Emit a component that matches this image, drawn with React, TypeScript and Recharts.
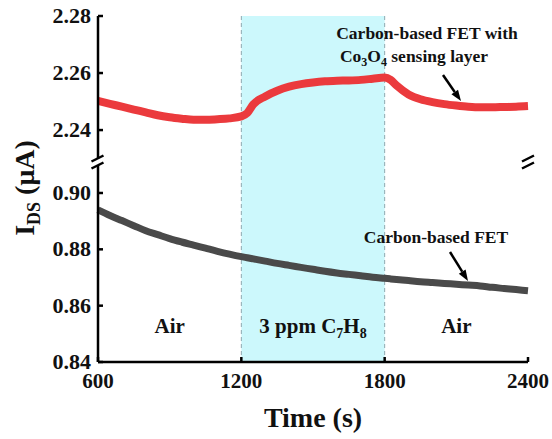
import React from "react";
import { LineChart, Line, XAxis, YAxis, ReferenceArea, ReferenceLine } from "recharts";

// time points (s)
const time = [
  600, 650, 700, 750, 800, 850, 900, 950, 1000, 1050, 1100, 1150, 1200,
  1225, 1250, 1300, 1350, 1400, 1450, 1500, 1550, 1600, 1650, 1700, 1750, 1800,
  1825, 1850, 1900, 1950, 2000, 2050, 2100, 2150, 2200, 2250, 2300, 2350, 2400,
];

// I_DS (uA), carbon-based FET with Co3O4 sensing layer
const withCo3O4 = [
  2.2502, 2.2492, 2.2482, 2.2472, 2.2462, 2.2452, 2.2445, 2.244, 2.2436, 2.2436, 2.2438, 2.2441, 2.2448,
  2.246, 2.249, 2.2518, 2.2538, 2.2552, 2.2561, 2.2567, 2.2571, 2.2573, 2.2574, 2.2576, 2.258, 2.2584,
  2.2576, 2.2556, 2.2525, 2.2508, 2.2498, 2.2491, 2.2486, 2.2482, 2.248, 2.248, 2.2481, 2.2482, 2.2484,
];

// I_DS (uA), bare carbon-based FET
const bareFet = [
  0.894, 0.892, 0.8902, 0.8884, 0.8866, 0.8852, 0.8838, 0.8826, 0.8815, 0.8804, 0.8793, 0.8783, 0.8774,
  0.877, 0.8766, 0.8758, 0.875, 0.8743, 0.8736, 0.8729, 0.8722, 0.8716, 0.8711, 0.8706, 0.8701, 0.8697,
  0.8695, 0.8693, 0.8689, 0.8685, 0.8682, 0.8679, 0.8676, 0.8673, 0.867, 0.8665, 0.8661, 0.8657, 0.8653,
];

const xTicks = [600, 1200, 1800, 2400];
const upperTicks = [2.24, 2.26, 2.28];
const lowerTicks = [0.84, 0.86, 0.88, 0.9];
const upperDomain = [2.2288, 2.28];
const lowerDomain = [0.84, 0.911];

const regionStart = [600, 1200, 1800];
const regionEnd = [1200, 1800, 2400];
const regionGas = [false, true, false];

const data = time.map((t, i) => ({ t, top: withCo3O4[i], bottom: bareFet[i] }));

const FONT = "'Liberation Serif', 'Times New Roman', serif";
const AXIS = { stroke: "#000", strokeWidth: 2.5 };
const CYAN = "#ccf8fc";
const DASH = "#8fa9b0";

const YTick = (props: any) => {
  const { x, y, payload } = props;
  return (
    <g>
      <line x1={x} x2={x + 5} y1={y} y2={y} stroke="#000" strokeWidth={2.5} />
      <text x={x - 7} y={y + 7} textAnchor="end" fontFamily={FONT} fontWeight="bold" fontSize={22} fill="#111">
        {payload.value.toFixed(2)}
      </text>
    </g>
  );
};

const XTick = (props: any) => {
  const { x, y, payload } = props;
  return (
    <g>
      <line x1={x} x2={x} y1={y} y2={y - 5} stroke="#000" strokeWidth={2.5} />
      <text x={x} y={y + 26} textAnchor="middle" fontFamily={FONT} fontWeight="bold" fontSize={21} fill="#111">
        {payload.value}
      </text>
    </g>
  );
};

const RegionLabel = (props: any) => {
  const { viewBox, gas } = props;
  const cx = viewBox.x + viewBox.width / 2;
  const y = viewBox.y + viewBox.height - 29;
  return (
    <text x={cx} y={y} textAnchor="middle" fontFamily={FONT} fontWeight="bold" fontSize={21} fill="#111">
      {gas ? (
        <>
          3 ppm C<tspan fontSize={14} dy={5}>7</tspan>
          <tspan dy={-5}>H</tspan>
          <tspan fontSize={14} dy={5}>8</tspan>
        </>
      ) : (
        "Air"
      )}
    </text>
  );
};

const Arrow = ({ x1, y1, x2, y2 }: { x1: number; y1: number; x2: number; y2: number }) => {
  const a = Math.atan2(y2 - y1, x2 - x1);
  const len = 11;
  const w = 4;
  const bx = x2 - len * Math.cos(a);
  const by = y2 - len * Math.sin(a);
  const px = -Math.sin(a) * w;
  const py = Math.cos(a) * w;
  return (
    <g>
      <line x1={x1} y1={y1} x2={bx} y2={by} stroke="#000" strokeWidth={2.5} />
      <polygon points={`${x2},${y2} ${bx + px},${by + py} ${bx - px},${by - py}`} fill="#000" />
    </g>
  );
};

// "//" marks where the y axis is broken; the axis is blanked between them
const BreakMark = ({ x }: { x: number }) => (
  <g>
    <rect x={x - 2.5} y={158.5} width={5} height={6.5} fill="#fff" />
    <g stroke="#000" strokeWidth={2.5}>
      <line x1={x - 6} y1={161.5} x2={x + 6} y2={155.5} />
      <line x1={x - 6} y1={168.5} x2={x + 6} y2={162.5} />
    </g>
  </g>
);

export default function App() {
  return (
    <div style={{ position: "fixed", left: 0, top: 0, width: 552, height: 439, background: "#fff" }}>
      {/* upper panel */}
      <div style={{ position: "absolute", left: 0, top: 0 }}>
        <LineChart width={552} height={162} data={data} margin={{ top: 16, right: 24, bottom: 0, left: 0 }}>
          <XAxis dataKey="t" type="number" domain={[600, 2400]} ticks={xTicks} orientation="top" height={0} tick={false} tickLine={false} axisLine={AXIS} />
          <YAxis domain={upperDomain} ticks={upperTicks} allowDataOverflow width={98} tickLine={false} tickSize={0} tickMargin={0} tick={<YTick />} axisLine={AXIS} />
          <YAxis yAxisId="r" orientation="right" domain={upperDomain} width={0} tick={false} tickLine={false} axisLine={AXIS} />
          {regionStart.map((s, i) => (
            <ReferenceArea key={s} x1={s} x2={regionEnd[i]} fill={CYAN} fillOpacity={regionGas[i] ? 1 : 0} stroke="none" />
          ))}
          <ReferenceLine x={1200} stroke={DASH} strokeDasharray="4 3" strokeWidth={1} />
          <ReferenceLine x={1800} stroke={DASH} strokeDasharray="4 3" strokeWidth={1} />
          <Line dataKey="top" type="monotone" stroke="#eb3a3d" strokeWidth={8} dot={false} isAnimationActive={false} />
        </LineChart>
      </div>
      {/* lower panel */}
      <div style={{ position: "absolute", left: 0, top: 162 }}>
        <LineChart width={552} height={277} data={data} margin={{ top: 0, right: 24, bottom: 37, left: 0 }}>
          <XAxis dataKey="t" type="number" domain={[600, 2400]} ticks={xTicks} height={40} tickLine={false} tickSize={0} tickMargin={0} tick={<XTick />} axisLine={AXIS} />
          <YAxis domain={lowerDomain} ticks={lowerTicks} allowDataOverflow width={98} tickLine={false} tickSize={0} tickMargin={0} tick={<YTick />} axisLine={AXIS} />
          <YAxis yAxisId="r" orientation="right" domain={lowerDomain} width={0} tick={false} tickLine={false} axisLine={AXIS} />
          {regionStart.map((s, i) => (
            <ReferenceArea
              key={s}
              x1={s}
              x2={regionEnd[i]}
              fill={CYAN}
              fillOpacity={regionGas[i] ? 1 : 0}
              stroke="none"
              label={<RegionLabel gas={regionGas[i]} />}
            />
          ))}
          <ReferenceLine x={1200} stroke={DASH} strokeDasharray="4 3" strokeWidth={1} />
          <ReferenceLine x={1800} stroke={DASH} strokeDasharray="4 3" strokeWidth={1} />
          <Line dataKey="bottom" type="monotone" stroke="#4a4a4a" strokeWidth={7} dot={false} isAnimationActive={false} />
        </LineChart>
      </div>
      {/* overlay: axis titles, annotations, break marks */}
      <svg width={552} height={439} style={{ position: "absolute", left: 0, top: 0, pointerEvents: "none" }}>
        <BreakMark x={97.5} />
        <BreakMark x={528} />
        <text transform="translate(34,188) rotate(-90)" textAnchor="middle" fontFamily={FONT} fontWeight="bold" fontSize={28} fill="#111">
          I<tspan fontSize={18} dy={6}>DS</tspan>
          <tspan dy={-6}> (μA)</tspan>
        </text>
        <text x={313} y={427} textAnchor="middle" fontFamily={FONT} fontWeight="bold" fontSize={28} fill="#111">
          Time (s)
        </text>
        <text x={427} y={39} textAnchor="middle" fontFamily={FONT} fontWeight="bold" fontSize={17.5} fill="#111">
          Carbon-based FET with
        </text>
        <text x={414} y={62} textAnchor="middle" fontFamily={FONT} fontWeight="bold" fontSize={17.5} fill="#111">
          Co<tspan fontSize={12} dy={4}>3</tspan>
          <tspan dy={-4}>O</tspan>
          <tspan fontSize={12} dy={4}>4</tspan>
          <tspan dy={-4}> sensing layer</tspan>
        </text>
        <Arrow x1={443} y1={75} x2={461} y2={101} />
        <text x={436} y={243} textAnchor="middle" fontFamily={FONT} fontWeight="bold" fontSize={17.5} fill="#111">
          Carbon-based FET
        </text>
        <Arrow x1={450} y1={252} x2={468} y2={281} />
      </svg>
    </div>
  );
}
